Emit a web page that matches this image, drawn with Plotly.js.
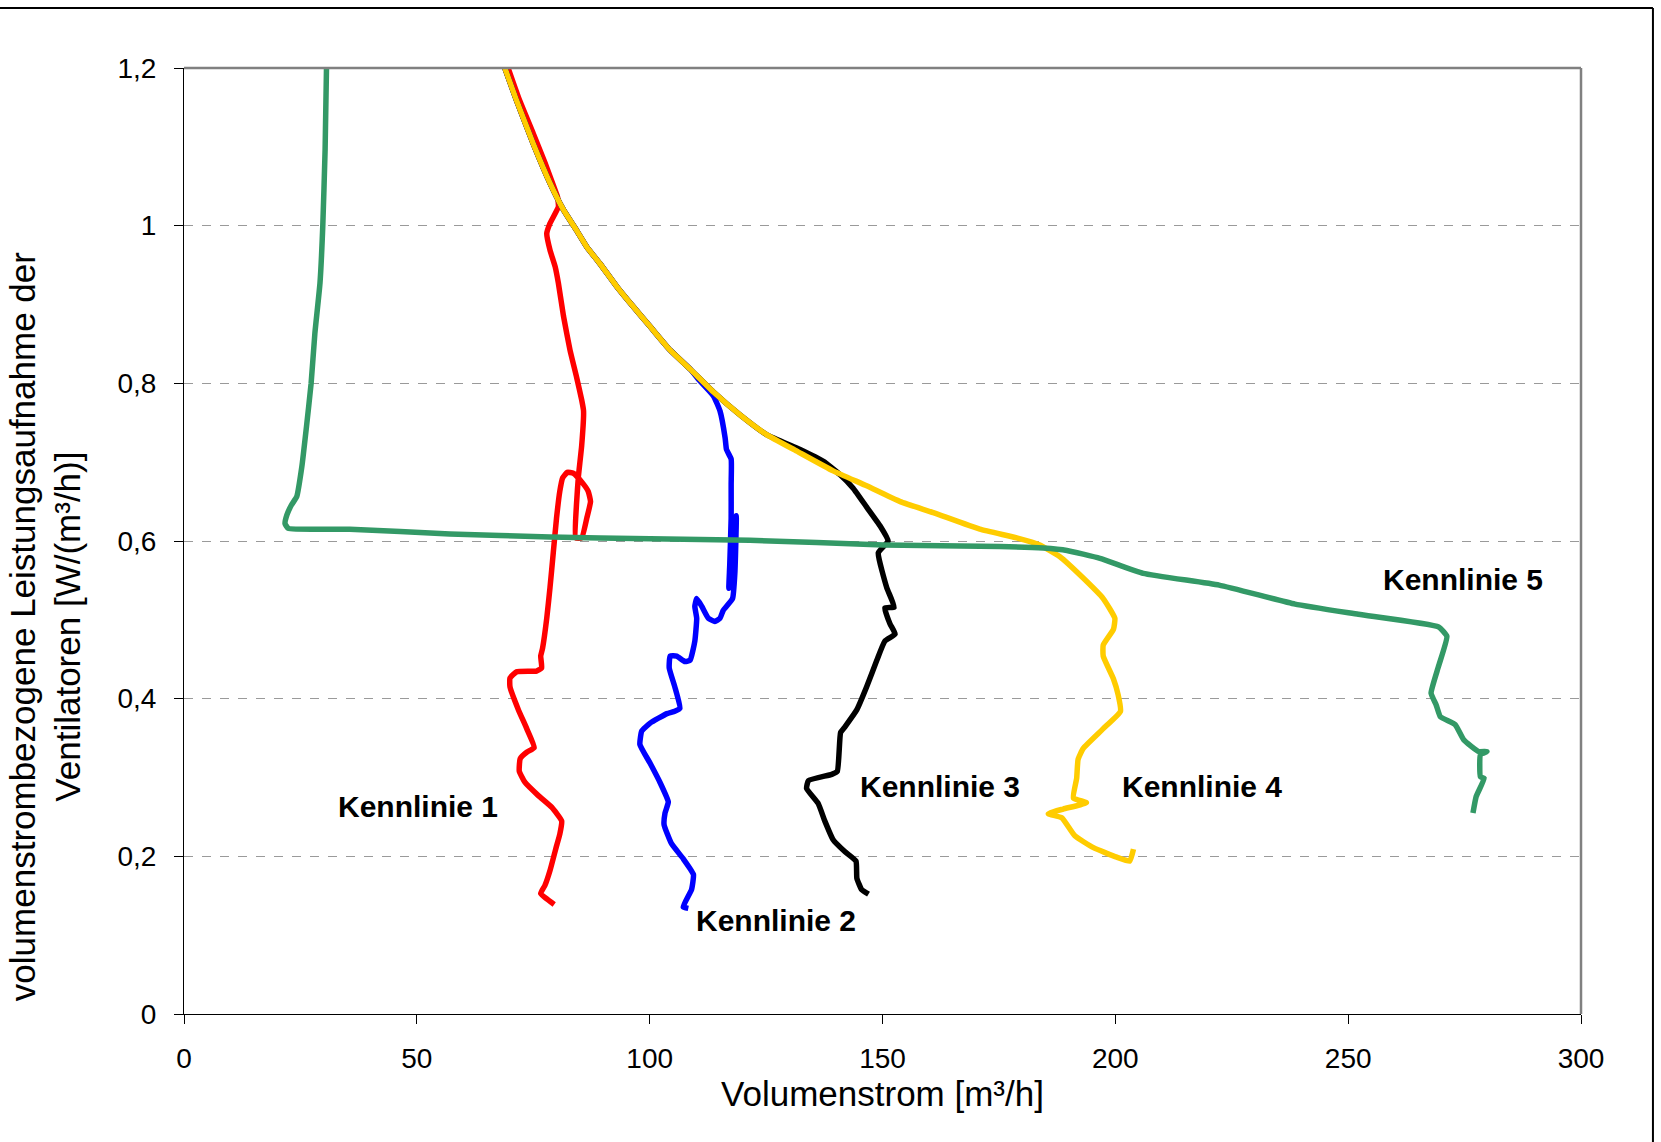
<!DOCTYPE html>
<html>
<head>
<meta charset="utf-8">
<script src="https://cdn.plot.ly/plotly-3.0.1.min.js"></script>
<style>
  html, body { margin: 0; padding: 0; background: #ffffff; }
  #chart { width: 1661px; height: 1142px; }
</style>
</head>
<body>
<div id="chart"></div>
<script>
// ---- Data ----
const seriesNames = ["Kennlinie 1", "Kennlinie 2", "Kennlinie 3", "Kennlinie 4", "Kennlinie 5"];

const k1x = [69.6, 72.0, 75.0, 77.5, 79.7, 80.2, 80.4, 78.6, 77.9, 78.6, 79.7, 80.4, 81.5, 82.9, 84.3, 85.4, 85.8, 85.4, 84.7, 84.3, 84.1, 85.4, 86.5, 87.3, 86.8, 85.4, 83.6, 82.3, 81.3, 80.7, 80.0, 79.3, 78.6, 77.9, 77.0, 76.6, 76.8, 75.7, 71.4, 70.0, 70.0, 71.8, 73.6, 75.2, 73.6, 72.2, 72.0, 73.2, 76.1, 79.0, 81.1, 80.7, 79.9, 78.6, 77.5, 76.6, 79.5];
const k1y = [1.2, 1.16, 1.117, 1.08, 1.045, 1.037, 1.024, 1.003, 0.990, 0.969, 0.948, 0.927, 0.885, 0.842, 0.808, 0.779, 0.765, 0.721, 0.682, 0.648, 0.604, 0.604, 0.629, 0.650, 0.663, 0.675, 0.686, 0.687, 0.680, 0.663, 0.629, 0.585, 0.541, 0.502, 0.464, 0.454, 0.439, 0.435, 0.434, 0.426, 0.415, 0.386, 0.362, 0.338, 0.332, 0.324, 0.308, 0.294, 0.277, 0.262, 0.245, 0.228, 0.211, 0.182, 0.163, 0.153, 0.139];

const k2x = [68.9, 71.4, 75.0, 78.6, 81.5, 84.3, 86.5, 89.3, 92.9, 96.5, 100.1, 104.4, 108.7, 110.8, 113.7, 115.1, 116.2, 116.5, 117.5, 117.5, 117.5, 117.2, 117.0, 118.6, 118.3, 117.8, 115.8, 115.1, 114.0, 112.6, 111.2, 110.1, 109.7, 110.1, 109.7, 108.7, 107.6, 105.8, 104.4, 104.2, 105.4, 106.5, 105.4, 103.7, 100.1, 98.3, 97.9, 100.1, 102.2, 104.0, 103.3, 103.1, 104.7, 107.2, 109.4, 109.0, 107.2, 108.3];
const k2y = [1.2, 1.159, 1.104, 1.054, 1.020, 0.994, 0.973, 0.952, 0.923, 0.897, 0.872, 0.842, 0.818, 0.803, 0.784, 0.765, 0.731, 0.716, 0.704, 0.672, 0.629, 0.570, 0.540, 0.632, 0.560, 0.527, 0.512, 0.502, 0.498, 0.502, 0.517, 0.527, 0.517, 0.502, 0.473, 0.449, 0.447, 0.454, 0.454, 0.439, 0.415, 0.388, 0.384, 0.381, 0.369, 0.359, 0.342, 0.318, 0.294, 0.269, 0.255, 0.240, 0.216, 0.197, 0.177, 0.158, 0.136, 0.134];

const k3x = [68.9, 71.4, 75.0, 78.6, 81.5, 84.3, 86.5, 89.3, 92.9, 96.5, 100.1, 104.4, 108.7, 113.7, 119.4, 125.1, 132.3, 137.3, 140.9, 143.7, 146.6, 149.5, 151.2, 149.1, 150.9, 152.5, 150.5, 151.6, 152.7, 150.5, 148.8, 146.6, 144.5, 141.9, 141.0, 140.3, 139.1, 134.1, 133.7, 136.2, 137.6, 139.4, 141.9, 144.3, 144.5, 145.5, 147.0];
const k3y = [1.2, 1.159, 1.104, 1.054, 1.020, 0.994, 0.973, 0.952, 0.923, 0.897, 0.872, 0.842, 0.818, 0.789, 0.760, 0.735, 0.716, 0.701, 0.684, 0.667, 0.643, 0.619, 0.600, 0.585, 0.541, 0.516, 0.515, 0.495, 0.482, 0.473, 0.449, 0.415, 0.386, 0.364, 0.357, 0.308, 0.304, 0.296, 0.286, 0.267, 0.245, 0.221, 0.206, 0.194, 0.172, 0.158, 0.152];

const k4x = [68.9, 71.4, 75.0, 78.6, 81.5, 84.3, 86.5, 89.3, 92.9, 96.5, 100.1, 104.4, 108.7, 113.7, 119.4, 125.1, 131.6, 139.4, 146.6, 153.8, 160.9, 170.9, 178.8, 183.8, 188.1, 193.1, 197.4, 199.9, 199.6, 197.4, 197.4, 199.6, 200.6, 201.1, 197.4, 193.1, 192.0, 191.7, 191.0, 193.8, 188.8, 185.6, 188.5, 191.3, 195.3, 200.3, 203.1, 203.9];
const k4y = [1.2, 1.159, 1.104, 1.054, 1.020, 0.994, 0.973, 0.952, 0.923, 0.897, 0.872, 0.842, 0.818, 0.789, 0.760, 0.735, 0.714, 0.689, 0.670, 0.650, 0.636, 0.615, 0.604, 0.595, 0.580, 0.553, 0.527, 0.502, 0.488, 0.468, 0.454, 0.425, 0.405, 0.384, 0.362, 0.337, 0.323, 0.299, 0.274, 0.268, 0.260, 0.254, 0.249, 0.226, 0.211, 0.199, 0.194, 0.209];

const k5x = [30.6, 30.3, 29.8, 29.2, 28.1, 27.3, 26.3, 25.3, 24.2, 23.1, 22.1, 21.7, 22.4, 35.6, 57.1, 78.6, 100.1, 121.5, 150.2, 175.2, 184.5, 189.6, 196.7, 206.0, 222.3, 238.6, 252.2, 269.4, 271.2, 269.4, 267.8, 268.9, 269.8, 273.0, 274.8, 278.0, 279.8, 278.4, 278.4, 279.2, 277.5, 276.8];
const k5y = [1.2, 1.096, 0.999, 0.927, 0.863, 0.800, 0.745, 0.694, 0.656, 0.646, 0.633, 0.622, 0.616, 0.615, 0.609, 0.605, 0.603, 0.601, 0.595, 0.593, 0.591, 0.588, 0.578, 0.559, 0.544, 0.520, 0.507, 0.491, 0.479, 0.441, 0.407, 0.392, 0.377, 0.367, 0.348, 0.333, 0.333, 0.329, 0.301, 0.299, 0.276, 0.255];

// label anchor positions (data coordinates)
const labelX = [50.3, 127.1, 162.3, 218.6, 274.6];
const labelY = [0.263, 0.119, 0.289, 0.289, 0.551];

const xTickVals = [0, 50, 100, 150, 200, 250, 300];
const yTickVals = [0, 0.2, 0.4, 0.6, 0.8, 1.0, 1.2];
const xTitle = "Volumenstrom [m³/h]";
const yTitle = "volumenstrombezogene Leistungsaufnahme der<br>Ventilatoren [W/(m³/h)]";

// ---- Styling ----
const colors = ["#FF0000", "#0000FF", "#000000", "#FFCC00", "#339966"];
const xs = [k1x, k2x, k3x, k4x, k5x];
const ys = [k1y, k2y, k3y, k4y, k5y];
const FONT = "Liberation Sans, Arial, sans-serif";

const traces = xs.map((x, i) => ({
  type: "scatter",
  mode: "lines",
  x: x,
  y: ys[i],
  name: seriesNames[i],
  line: { color: colors[i], width: 5.5, shape: "spline", smoothing: 0.4 },
  hoverinfo: "skip",
  showlegend: false
}));

const annotations = seriesNames.map((n, i) => ({
  x: labelX[i], y: labelY[i], xref: "x", yref: "y",
  text: "<b>" + n + "</b>", showarrow: false,
  xanchor: "center", yanchor: "middle",
  font: { family: FONT, size: 30, color: "#000000" }
}));
annotations.push({
  x: -0.0995, y: 0.41, xref: "paper", yref: "paper",
  text: yTitle, showarrow: false, textangle: -90,
  xanchor: "center", yanchor: "middle",
  font: { family: FONT, size: 35, color: "#000000" }
});

const layout = {
  width: 1661,
  height: 1142,
  margin: { l: 184, r: 80, t: 68, b: 128 },
  paper_bgcolor: "#ffffff",
  plot_bgcolor: "#ffffff",
  separators: ",.",
  font: { family: FONT, color: "#000000" },
  xaxis: {
    range: [0, 300],
    tickvals: xTickVals,
    ticks: "outside", ticklen: 9, tickwidth: 1, tickcolor: "#000000",
    showline: true, linecolor: "#000000", linewidth: 1,
    showgrid: false, zeroline: false,
    tickfont: { family: FONT, size: 28, color: "#000000" },
    ticklabelstandoff: 10,
    title: { text: xTitle, font: { family: FONT, size: 35, color: "#000000" }, standoff: 0 }
  },
  yaxis: {
    range: [0, 1.2],
    tickvals: yTickVals,
    ticks: "outside", ticklen: 9, tickwidth: 1, tickcolor: "#000000",
    showline: true, linecolor: "#000000", linewidth: 1,
    showgrid: true, gridcolor: "#9a9a9a", gridwidth: 1, griddash: "dash",
    zeroline: false,
    tickfont: { family: FONT, size: 28, color: "#000000" },
    ticklabelstandoff: 12
  },
  annotations: annotations,
  shapes: [
    // plot area frame top & right (grey)
    { type: "line", xref: "paper", yref: "paper", x0: 0, x1: 1, y0: 1, y1: 1, line: { color: "#808080", width: 2.5 } },
    { type: "line", xref: "paper", yref: "paper", x0: 1, x1: 1, y0: 0, y1: 1, line: { color: "#808080", width: 2.5 } },
    // outer chart frame (top & right visible)
    { type: "line", xref: "paper", yref: "paper", x0: -0.2, x1: 1.0515, y0: 1.0634, y1: 1.0634, line: { color: "#000000", width: 2 } },
    { type: "line", xref: "paper", yref: "paper", x0: 1.0515, x1: 1.0515, y0: -0.2, y1: 1.0634, line: { color: "#000000", width: 2 } }
  ]
};

Plotly.newPlot("chart", traces, layout, { displayModeBar: false, staticPlot: true });
</script>
</body>
</html>
